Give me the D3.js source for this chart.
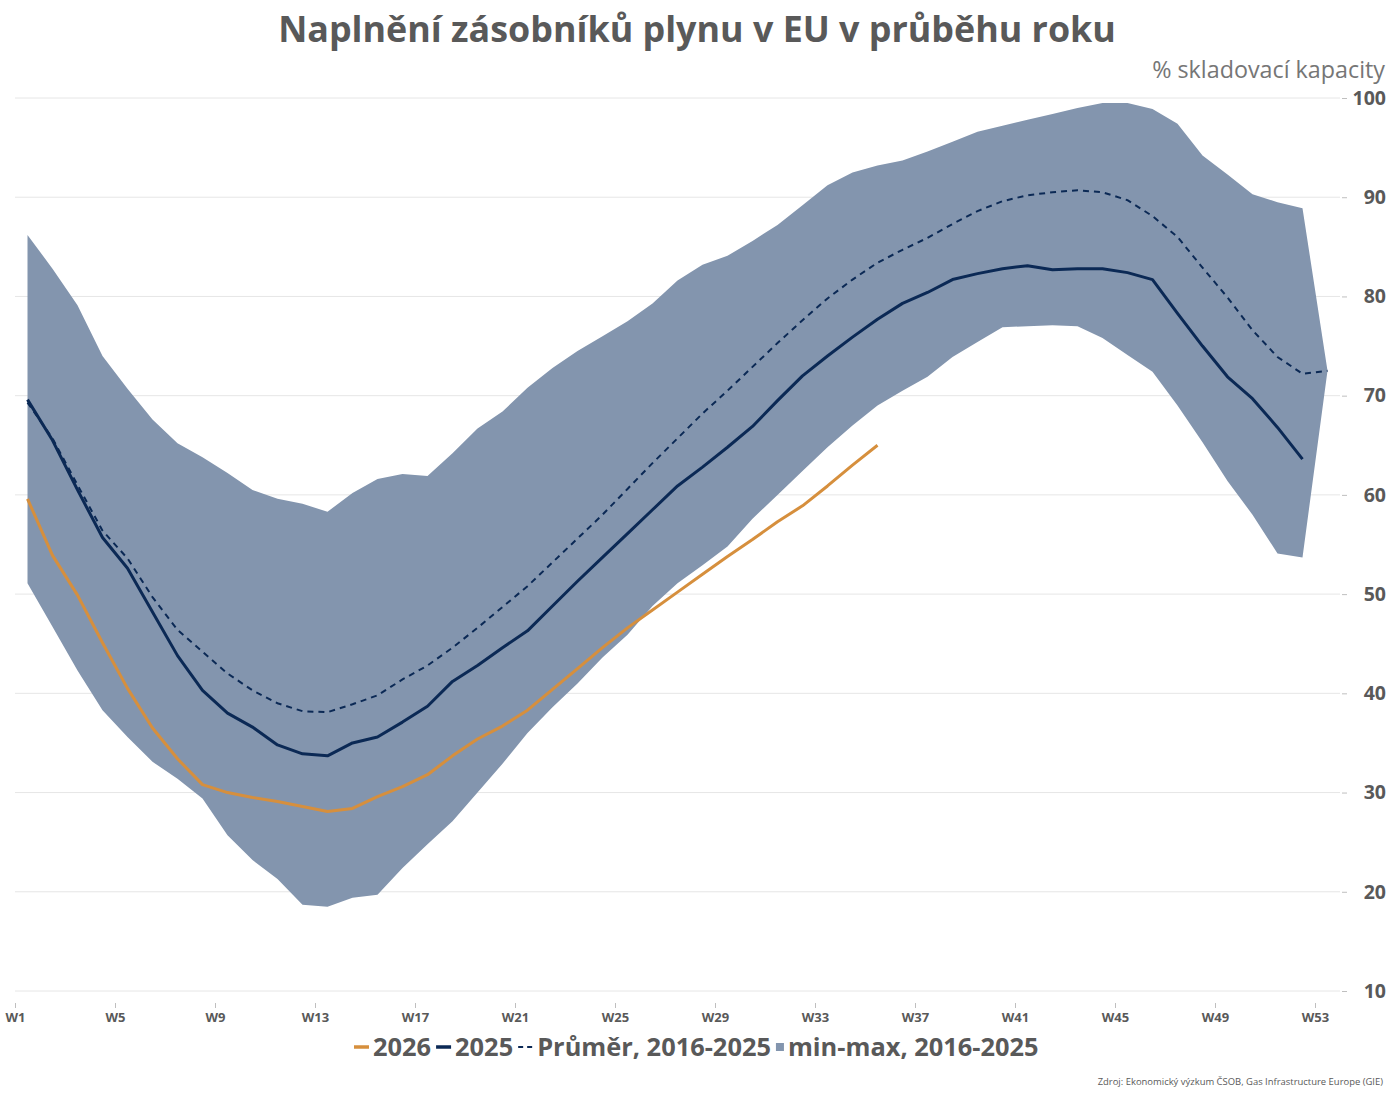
<!DOCTYPE html>
<html>
<head>
<meta charset="utf-8">
<script src="https://cdn.jsdelivr.net/npm/d3@7"></script>
<style>
  body { margin: 0; background: #fff; }
  text { font-family: "Open Sans", "Noto Sans", sans-serif; }
</style>
</head>
<body>
<svg id="chart" width="1394" height="1098"></svg>
<script>
// hodnoty, týdny W1..W53
var weekLabels = d3.range(1, 54).map(function (d) { return "W" + d; });
var xTickLabels = ["W1", "W5", "W9", "W13", "W17", "W21", "W25", "W29", "W33", "W37", "W41", "W45", "W49", "W53"];
var yTicks = [10, 20, 30, 40, 50, 60, 70, 80, 90, 100];

var maxVals = [86.2, 82.8, 79.1, 74.0, 70.7, 67.6, 65.2, 63.8, 62.2, 60.5, 59.6, 59.1, 58.3,
  60.2, 61.6, 62.1, 61.9, 64.2, 66.7, 68.4, 70.8, 72.8, 74.5, 76.0, 77.5, 79.3, 81.6, 83.2,
  84.1, 85.6, 87.2, 89.2, 91.2, 92.5, 93.2, 93.7, 94.6, 95.6, 96.6, 97.2, 97.8, 98.4, 99.0,
  99.5, 99.5, 98.9, 97.4, 94.2, 92.3, 90.3, 89.5, 88.9, 72.5];

var minVals = [51.1, 46.7, 42.3, 38.3, 35.6, 33.1, 31.4, 29.4, 25.7, 23.2, 21.3, 18.7, 18.5,
  19.4, 19.7, 22.4, 24.8, 27.1, 30.0, 32.9, 36.0, 38.6, 41.0, 43.6, 45.9, 48.8, 51.1, 52.9,
  54.8, 57.6, 60.0, 62.4, 64.8, 67.0, 69.0, 70.5, 71.9, 73.9, 75.4, 76.9, 77.0, 77.1, 77.0,
  75.8, 74.1, 72.4, 69.0, 65.3, 61.4, 58.0, 54.1, 53.7, 72.5];

var avgVals = [69.3, 65.7, 61.0, 56.4, 53.6, 49.7, 46.4, 44.2, 42.0, 40.3, 39.0, 38.2, 38.1,
  38.9, 39.8, 41.4, 42.8, 44.6, 46.6, 48.7, 50.8, 53.2, 55.6, 58.0, 60.6, 63.2, 65.7, 68.2,
  70.5, 72.9, 75.3, 77.6, 79.8, 81.7, 83.4, 84.7, 85.9, 87.3, 88.6, 89.6, 90.2, 90.5, 90.7,
  90.5, 89.7, 88.1, 86.0, 82.9, 79.9, 76.6, 73.9, 72.2, 72.5];

var vals2025 = [69.6, 65.5, 60.5, 55.7, 52.6, 48.2, 43.8, 40.3, 38.0, 36.6, 34.8, 33.9, 33.7,
  35.0, 35.6, 37.1, 38.7, 41.2, 42.8, 44.6, 46.3, 48.8, 51.3, 53.7, 56.1, 58.5, 60.9, 62.8,
  64.8, 66.9, 69.5, 72.0, 74.0, 75.9, 77.7, 79.3, 80.4, 81.7, 82.3, 82.8, 83.1, 82.7, 82.8,
  82.8, 82.4, 81.7, 78.3, 75.0, 71.9, 69.7, 66.8, 63.6, null];

var vals2026 = [59.6, 53.9, 49.9, 45.1, 40.5, 36.5, 33.4, 30.8, 30.0, 29.5, 29.1, 28.6, 28.1,
  28.4, 29.6, 30.6, 31.8, 33.7, 35.4, 36.7, 38.3, 40.4, 42.5, 44.6, 46.6, 48.4, 50.2, 52.0,
  53.8, 55.5, 57.3, 58.9, 60.9, 63.0, 65.0, null, null, null, null, null, null, null, null,
  null, null, null, null, null, null, null, null, null, null];

var legendItems = ["2026", "2025", "Průměr, 2016-2025", "min-max, 2016-2025"];

var cBand = "#8395ae", cNavy = "#0b2955", cOrange = "#d68f3d", cText = "#595959";

var svg = d3.select("#chart");

var x = d3.scaleLinear().domain([0, weekLabels.length]).range([15, 1340]);
var y = d3.scaleLinear().domain([10, 100]).range([991, 98]);
function xi(i) { return x(i + 0.5); }

// mřížka
svg.append("g")
  .selectAll("line")
  .data(yTicks)
  .enter().append("line")
  .attr("x1", x(0)).attr("x2", x(weekLabels.length))
  .attr("y1", function (d) { return y(d); })
  .attr("y2", function (d) { return y(d); })
  .attr("stroke", "#e6e6e6").attr("stroke-width", 1);

// osa y vpravo
var yAxis = svg.append("g")
  .attr("transform", "translate(" + (x(weekLabels.length) + 2) + ",0)")
  .call(d3.axisRight(y).tickValues(yTicks).tickSize(5).tickPadding(8));
yAxis.select(".domain").remove();
yAxis.selectAll(".tick line").attr("stroke", "#bfbfbf");
yAxis.selectAll(".tick text")
  .attr("fill", cText).attr("font-size", 19.5).attr("font-weight", 700)
  .attr("text-anchor", "end").attr("x", 1386 - x(weekLabels.length) - 2);

// osa x
var tickIdx = xTickLabels.map(function (l) { return weekLabels.indexOf(l); });
var xAxis = svg.append("g")
  .attr("transform", "translate(0,1003)")
  .call(d3.axisBottom(x).tickValues(tickIdx).tickSize(5).tickPadding(5)
    .tickFormat(function (d) { return weekLabels[d]; }));
xAxis.select(".domain").remove();
xAxis.selectAll(".tick line").attr("stroke", "#bfbfbf");
xAxis.selectAll(".tick text")
  .attr("fill", cText).attr("font-size", 13).attr("font-weight", 700);

// pásmo min-max
var idx = d3.range(weekLabels.length);
var area = d3.area()
  .x(function (i) { return xi(i); })
  .y0(function (i) { return y(minVals[i]); })
  .y1(function (i) { return y(maxVals[i]); });
svg.append("path").datum(idx).attr("d", area).attr("fill", cBand);

function lineFor(arr) {
  return d3.line()
    .defined(function (i) { return arr[i] != null; })
    .x(function (i) { return xi(i); })
    .y(function (i) { return y(arr[i]); });
}

svg.append("path").datum(idx).attr("d", lineFor(avgVals))
  .attr("fill", "none").attr("stroke", cNavy).attr("stroke-width", 2)
  .attr("stroke-dasharray", "6,5");
svg.append("path").datum(idx).attr("d", lineFor(vals2025))
  .attr("fill", "none").attr("stroke", cNavy).attr("stroke-width", 3)
  .attr("stroke-linejoin", "round");
svg.append("path").datum(idx).attr("d", lineFor(vals2026))
  .attr("fill", "none").attr("stroke", cOrange).attr("stroke-width", 3)
  .attr("stroke-linejoin", "round");

// texty
function fit(sel, w) {
  var fs = +sel.attr("font-size");
  var len = sel.node().getComputedTextLength();
  sel.attr("font-size", fs * w / len);
}

var title = svg.append("text")
  .attr("x", 697).attr("y", 42).attr("text-anchor", "middle")
  .attr("font-size", 34).attr("font-weight", 700).attr("fill", cText)
  .text("Naplnění zásobníků plynu v EU v průběhu roku");
fit(title, 838);

var sub = svg.append("text")
  .attr("x", 1385).attr("y", 78).attr("text-anchor", "end")
  .attr("font-size", 22).attr("font-weight", 400).attr("fill", "#767676")
  .text("% skladovací kapacity");
fit(sub, 233);

var src = svg.append("text")
  .attr("x", 1383).attr("y", 1085).attr("text-anchor", "end")
  .attr("font-size", 10).attr("fill", cText)
  .text("Zdroj: Ekonomický výzkum ČSOB, Gas Infrastructure Europe (GIE)");
fit(src, 286);

// legenda
function drawLegend(fs) {
  var lg = svg.append("g");
  var lx = 0, ly = 1047;
  legendItems.forEach(function (name, k) {
    var g = lg.append("g").attr("transform", "translate(" + lx + ",0)");
    if (k === 3) {
      g.append("rect").attr("x", 0).attr("y", ly - 4).attr("width", 8).attr("height", 8)
        .attr("fill", cBand);
    } else {
      g.append("line").attr("x1", 0).attr("x2", 15).attr("y1", ly).attr("y2", ly)
        .attr("stroke", k === 0 ? cOrange : cNavy)
        .attr("stroke-width", k === 2 ? 2 : 3.5)
        .attr("stroke-dasharray", k === 2 ? "5,4" : null);
    }
    var sw = k === 3 ? 12 : 19;
    var t = g.append("text").attr("x", sw).attr("y", ly).attr("dy", "0.35em")
      .attr("font-size", fs).attr("font-weight", 700).attr("fill", cText)
      .text(name);
    lx += sw + t.node().getComputedTextLength() + 5;
  });
  return { g: lg, w: lx - 5 };
}
var lg1 = drawLegend(23);
var fsL = 23 * (686 - 74) / (lg1.w - 74);
lg1.g.remove();
var lg2 = drawLegend(fsL);
lg2.g.attr("transform", "translate(354,0)");
</script>
</body>
</html>
